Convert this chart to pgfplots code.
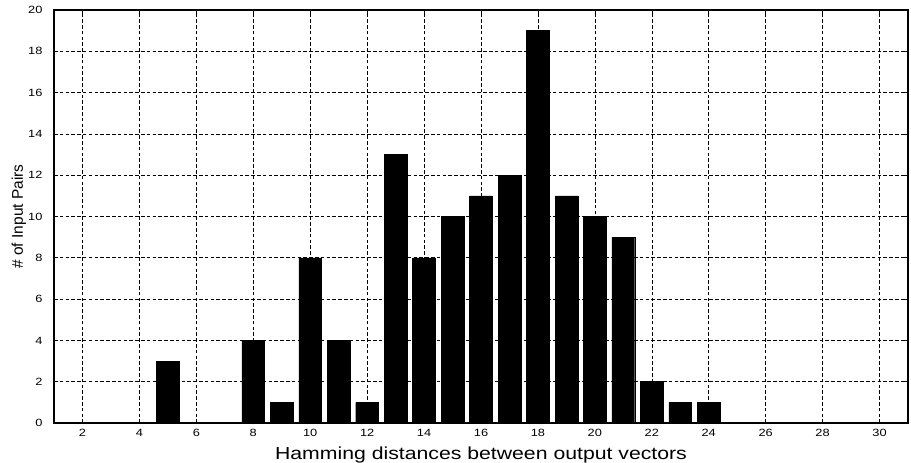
\documentclass[border=0pt]{standalone}
\usepackage{fontspec}
\setmainfont{Liberation Sans}
\newfontfamily\widefont[FakeStretch=1.22]{Liberation Sans}
\usepackage{pgfplots}
\pgfplotsset{compat=1.18}
\begin{document}
\begin{tikzpicture}[x=1pt,y=1pt]
\path[use as bounding box] (0,0) rectangle (911,463);
\begin{axis}[
  at={(54pt,40pt)}, anchor=south west,
  scale only axis, width=854pt, height=413pt,
  xmin=1, xmax=31, ymin=0, ymax=20,
  xtick={2,4,...,30}, ytick={0,2,...,20},
  grid=major,
  major grid style={black, line width=0.6pt, dash pattern=on 3.5pt off 2.3pt},
  axis line style={black, line width=1.4pt},
  tick align=inside, major tick length=4pt,
  tick style={black, line width=0.6pt},
  /pgf/number format/assume math mode=true,
  ticklabel style={font=\widefont\fontsize{10.5}{11}\selectfont},
  xticklabel style={yshift=-3pt},
  yticklabel style={xshift=-8pt},
  xlabel={Hamming distances between output vectors},
  ylabel={\# of Input Pairs},
  xlabel style={font=\widefont\fontsize{17.4}{18}\selectfont, at={(axis description cs:0.5,-0.0872)}, anchor=base},
  ylabel style={font=\fontsize{15.5}{16}\selectfont, at={(axis description cs:-0.0363,0.5)}, anchor=base},
]
\addplot[ybar, bar width=0.8, fill=black, draw=black] coordinates {
(5,3) (8,4) (9,1) (10,8) (11,4) (12,1) (13,13) (14,8) (15,10) (16,11)
(17,12) (18,19) (19,11) (20,10) (21,9) (22,2) (23,1) (24,1)
};
\end{axis}
\end{tikzpicture}
\end{document}
